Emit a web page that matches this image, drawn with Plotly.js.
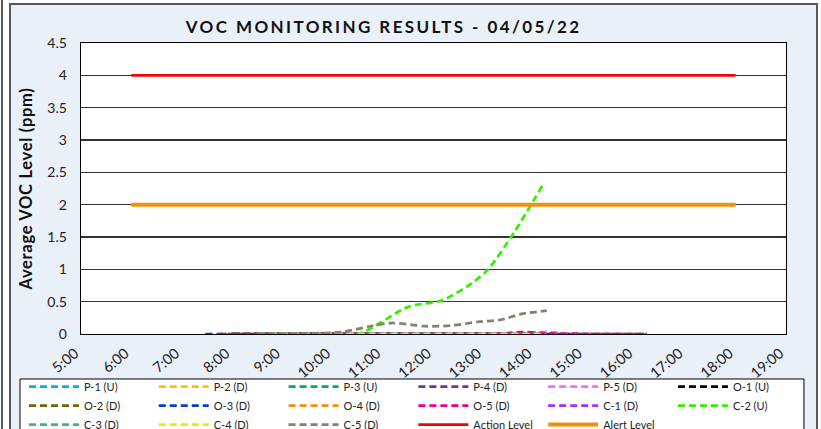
<!DOCTYPE html>
<html><head><meta charset="utf-8">
<script src="https://cdn.plot.ly/plotly-3.0.1.min.js"></script>
<style>
html,body{margin:0;padding:0;background:#fff;width:821px;height:429px;overflow:hidden;}
#edge{position:absolute;left:1px;top:0;width:2px;height:429px;background:#595959;}
#wrap{position:absolute;left:9px;top:3px;border:2px solid #595959;width:805px;height:430px;}
#chart{width:805px;height:430px;}
.gtitle{letter-spacing:2.4px;}
.ytitle{letter-spacing:0.7px;}
</style></head>
<body>
<div id="edge"></div>
<div id="wrap"><div id="chart"></div></div>
<script>
const DAY = '2022-04-05 ';
const seriesNames = ['P-1 (U)','P-2 (D)','P-3 (U)','P-4 (D)','P-5 (D)','O-1 (U)','O-2 (D)','O-3 (D)','O-4 (D)','O-5 (D)','C-1 (D)','C-2 (U)','C-3 (D)','C-4 (D)','C-5 (D)'];
const seriesColors = ['#00B0F0','#FFC000','#00B050','#7030A0','#FF66FF','#000000','#806000','#0040C8','#F0900F','#E8008A','#9933FF','#33F000','#3CB878','#E2F000','#858070'];

const p1Times = ['8:00','9:00','10:00','11:00','12:00','13:00','14:00'];
const p1Vals  = [0,0,0,0,0,0,0];
const p2Times = ['8:00','9:00','10:00','11:00','12:00','13:00','14:00'];
const p2Vals  = [0,0,0,0,0,0,0];
const p3Times = ['8:00','9:00','10:00','11:00','12:00','13:00','14:00'];
const p3Vals  = [0,0,0,0,0,0,0];
const p4Times = ['8:00','9:00','10:00','11:00','12:00','13:00','14:00'];
const p4Vals  = [0,0,0,0,0,0,0];
const p5Times = ['8:00','9:00','10:00','11:00','12:00','13:00','13:40','14:10','14:40','15:30','16:00'];
const p5Vals  = [0,0,0,0,0,0,0.01,0.03,0.01,0,0];
const o1Times = ['8:00','9:00','10:00','11:00','12:00','13:00','14:00'];
const o1Vals  = [0,0,0,0,0,0,0];
const o2Times = ['8:00','9:00','10:00','11:00','12:00','13:00','14:00'];
const o2Vals  = [0,0,0,0,0,0,0];
const o3Times = ['7:28','8:30','9:30','10:30','11:30','12:30','13:30','14:30','15:30','16:14'];
const o3Vals  = [0,0,0,0,0,0,0,0,0,0];
const o4Times = ['7:45','8:30','9:30','10:30','11:30','12:30','13:30','14:30','15:30','16:12'];
const o4Vals  = [0,0,0,0,0,0,0,0,0,0];
const o5Times = ['7:45','8:30','9:30','10:30','11:30','12:30','13:15','13:45','14:15','15:00','15:45','16:12'];
const o5Vals  = [0,0,0,0,0,0,0,0.03,0.01,0,0,0];
const c1Times = ['8:30','9:30','10:30','11:30','12:30','13:30','14:10'];
const c1Vals  = [0,0,0,0,0,0,0];
const c2Times = ['8:30','9:30','10:30','11:30','12:10','12:45','13:05','13:35','14:10'];
const c2Vals  = [0,0,0,0.42,0.52,0.78,1.0,1.55,2.30];
const c3Times = ['8:30','9:30','10:30','11:30','12:30','13:30','14:10'];
const c3Vals  = [0,0,0,0,0,0,0];
const c4Times = ['8:45','9:30','10:30','11:30','12:30','13:30','14:10'];
const c4Vals  = [0,0,0,0,0,0,0];
const c5Times = ['8:30','9:30','10:10','10:45','11:10','11:50','12:20','12:55','13:20','13:45','14:15'];
const c5Vals  = [0,0.01,0.03,0.12,0.17,0.12,0.13,0.19,0.22,0.31,0.36];

const levelTimes = ['6:00','18:00'];
const actionVals = [4,4];
const alertVals  = [2,2];

const seriesTimes = [p1Times,p2Times,p3Times,p4Times,p5Times,o1Times,o2Times,o3Times,o4Times,o5Times,c1Times,c2Times,c3Times,c4Times,c5Times];
const seriesVals  = [p1Vals,p2Vals,p3Vals,p4Vals,p5Vals,o1Vals,o2Vals,o3Vals,o4Vals,o5Vals,c1Vals,c2Vals,c3Vals,c4Vals,c5Vals];

const toX = arr => arr.map(t => DAY + t);

const traces = seriesNames.map((n,i)=>({
  type:'scatter', mode:'lines', name:n,
  x: toX(seriesTimes[i]), y: seriesVals[i],
  line:{color:seriesColors[i], width:2.75, dash:'7px,4px', shape:'spline', smoothing:0.8}
}));
traces.push({type:'scatter',mode:'lines',name:'Action Level',x:toX(levelTimes),y:actionVals,line:{color:'#FF0000',width:2.75}});
traces.push({type:'scatter',mode:'lines',name:'Alert Level',x:toX(levelTimes),y:alertVals,line:{color:'#F0900F',width:4}});

const FONT = 'Lato, "Open Sans", sans-serif';
const layout = {
  width:805, height:430,
  paper_bgcolor:'#E9F0F8', plot_bgcolor:'#FFFFFF',
  margin:{l:70, r:30, t:38, b:101, autoexpand:false},
  font:{family:FONT, color:'#222', size:13},
  title:{text:'<b>VOC MONITORING RESULTS - 04/05/22</b>', font:{family:FONT,size:17,color:'#111'}, x:0.463, xref:'container', xanchor:'center', y:0.949, yref:'container', yanchor:'middle'},
  xaxis:{type:'date', range:[DAY+'5:00', DAY+'19:00'], dtick:3600000, tick0:DAY+'5:00', tickformat:'%-H:%M', tickangle:-40,
    showgrid:false, showline:true, linecolor:'#000', linewidth:1.3, mirror:true, zeroline:false, ticks:'', ticklabelstandoff:4, ticklabelshift:6,
    tickfont:{family:FONT,size:14.5,color:'#222'}},
  yaxis:{range:[0,4.5], dtick:0.5, tick0:0, showgrid:true, gridcolor:'#333', gridwidth:1.2,
    showline:true, linecolor:'#000', linewidth:1.3, mirror:true, zeroline:false, ticks:'', ticklabelstandoff:10,
    tickfont:{family:FONT,size:14,color:'#222'},
    title:{text:'<b>Average VOC Level (ppm)</b>', font:{family:FONT,size:16.5,color:'#111'}, standoff:10}},
  shapes:[{type:'rect', xref:'paper', yref:'paper', x0:-0.0865, x1:1.0255, y0:-0.1546, y1:-0.42,
    fillcolor:'#FFFFFF', line:{color:'#000', width:1}, layer:'below'}],
  showlegend:true,
  legend:{orientation:'h', x:-0.0809, y:-0.1306, xanchor:'left', yanchor:'top', bgcolor:'rgba(0,0,0,0)', borderwidth:0,
    entrywidth:64.8, entrywidthmode:'pixels', itemwidth:50, tracegroupgap:0, font:{family:FONT,size:11,color:'#222'}, traceorder:'normal'}
};
Plotly.newPlot('chart', traces, layout, {displayModeBar:false, staticPlot:true});
</script>
</body></html>
